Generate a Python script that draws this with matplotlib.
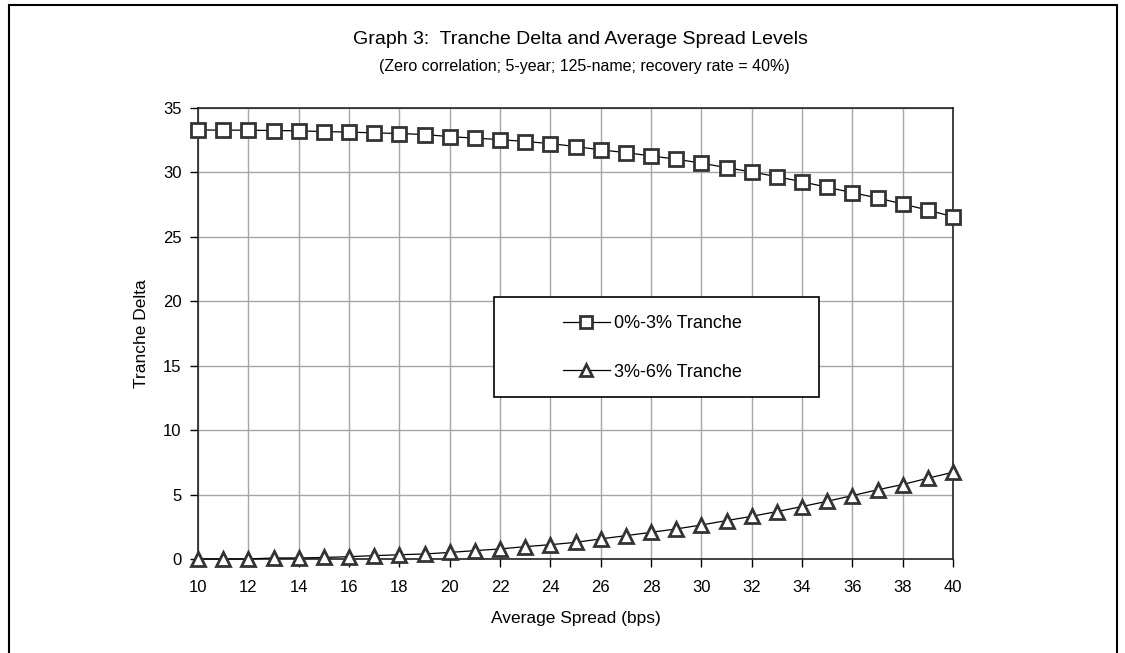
import numpy as np
import matplotlib
matplotlib.use("Agg")
import matplotlib.pyplot as plt
from matplotlib.patches import Rectangle
from matplotlib.lines import Line2D

plt.rcParams["font.family"] = ["Liberation Sans", "DejaVu Sans"]

spread = list(range(10, 41))
delta_0_3 = [33.30, 33.28, 33.28, 33.25, 33.23, 33.17, 33.13, 33.07, 33.02, 32.94,
             32.78, 32.66, 32.55, 32.40, 32.24, 32.01, 31.75, 31.54, 31.28, 31.03,
             30.72, 30.37, 30.04, 29.67, 29.28, 28.85, 28.43, 28.02, 27.55, 27.08,
             26.56]
delta_3_6 = [0.00, 0.00, 0.00, 0.08, 0.08, 0.12, 0.18, 0.26, 0.33, 0.39,
             0.51, 0.65, 0.78, 0.96, 1.11, 1.29, 1.56, 1.81, 2.07, 2.33,
             2.64, 2.98, 3.31, 3.68, 4.07, 4.48, 4.92, 5.37, 5.78, 6.27,
             6.73]
labels = ["0%-3% Tranche", "3%-6% Tranche"]

W, H = 1125, 653
fig = plt.figure(figsize=(W / 100, H / 100), dpi=100)
ax = fig.add_axes([198 / W, 1 - 559 / H, (953 - 198) / W, (559 - 108) / H])

mk = dict(markersize=10, markerfacecolor="white", markeredgecolor="#333333",
          markeredgewidth=2, color="black", linewidth=0.9, clip_on=False, zorder=6)
ax.plot(spread, delta_0_3, marker="s", label=labels[0], **mk)
ax.plot(spread, delta_3_6, marker="^", label=labels[1], **mk)

ax.set_xlim(10, 40)
ax.set_ylim(0, 35)
ax.set_xticks(range(10, 41, 2))
ax.set_yticks(range(0, 36, 5))
ax.grid(True, color="#a6a6a6", linewidth=1)
ax.set_axisbelow(True)
ax.tick_params(labelsize=12, length=6, width=1, color="black")
ax.tick_params(axis="x", pad=9)
ax.tick_params(axis="y", pad=6)
for s in ax.spines.values():
    s.set_color("#222222")
    s.set_linewidth(1.2)

ax.set_xlabel("Average Spread (bps)", fontsize=12.5, labelpad=12)
ax.set_ylabel("Tranche Delta", fontsize=12.5, labelpad=10)

fig.text(580 / W, 1 - 40 / H, "Graph 3:  Tranche Delta and Average Spread Levels",
         ha="center", va="center", fontsize=14)
fig.text(584 / W, 1 - 67 / H, "(Zero correlation; 5-year; 125-name; recovery rate = 40%)",
         ha="center", va="center", fontsize=11.5)

# legend box
box = Rectangle((494 / W, 1 - 397 / H), (819 - 494) / W, (397 - 297) / H,
                transform=fig.transFigure, facecolor="white", edgecolor="black",
                linewidth=1.2, zorder=7)
ax.add_patch(box)
box.set_clip_on(False)
h1 = Line2D([], [], marker="s", markersize=9, markerfacecolor="white",
            markeredgecolor="#333333", markeredgewidth=2, color="black", linewidth=0.9)
h2 = Line2D([], [], marker="^", markersize=9, markerfacecolor="white",
            markeredgecolor="#333333", markeredgewidth=2, color="black", linewidth=0.9)
leg = ax.legend([h1, h2], labels, loc="center left", frameon=False,
                bbox_to_anchor=(563 / W, 1 - 348 / H), bbox_transform=fig.transFigure,
                fontsize=13, handlelength=2.6, handletextpad=0.25, labelspacing=1.75,
                borderpad=0, borderaxespad=0)
leg.set_zorder(8)

# outer frame (bottom edge cut off)
fig.add_artist(Rectangle((9 / W, -0.05), (1117 - 9) / W, 1.05 - 5 / H,
                         transform=fig.transFigure, fill=False,
                         edgecolor="black", linewidth=1.5))

fig.savefig("out.png", dpi=100)
